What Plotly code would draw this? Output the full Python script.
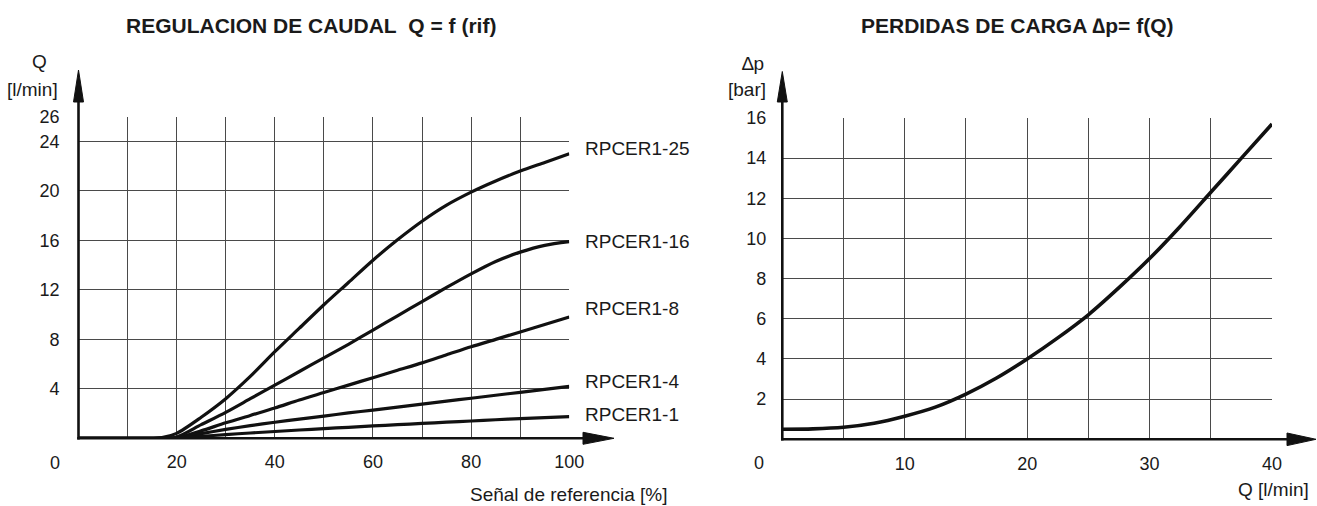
import plotly.graph_objects as go

W, H = 1317, 506

# ---------------- data ----------------
ref_pct = [0, 5, 10, 15, 17, 20, 25, 30, 35, 40, 45, 50, 55, 60, 65, 70, 75, 80, 85, 90, 95, 100]
q_rpcer1_25 = [0, 0, 0, 0, 0.05, 0.4, 1.7, 3.2, 5.0, 7.0, 8.9, 10.8, 12.6, 14.4, 16.05, 17.55, 18.85, 19.9, 20.8, 21.6, 22.3, 23.0]
q_rpcer1_16 = [0, 0, 0, 0, 0, 0.1, 1.1, 2.1, 3.2, 4.3, 5.4, 6.5, 7.6, 8.75, 9.9, 11.05, 12.2, 13.3, 14.3, 15.05, 15.6, 15.9]
q_rpcer1_8 = [0, 0, 0, 0, 0, 0.02, 0.6, 1.25, 1.85, 2.45, 3.1, 3.7, 4.3, 4.9, 5.5, 6.1, 6.75, 7.4, 8.0, 8.6, 9.2, 9.8]
q_rpcer1_4 = [0, 0, 0, 0, 0, 0.01, 0.38, 0.72, 1.02, 1.3, 1.55, 1.8, 2.05, 2.28, 2.52, 2.76, 3.0, 3.24, 3.48, 3.72, 3.96, 4.2]
q_rpcer1_1 = [0, 0, 0, 0, 0, 0.0, 0.15, 0.3, 0.43, 0.55, 0.67, 0.78, 0.89, 1.0, 1.1, 1.2, 1.3, 1.4, 1.5, 1.59, 1.67, 1.75]
series_names = ["RPCER1-25", "RPCER1-16", "RPCER1-8", "RPCER1-4", "RPCER1-1"]
series_values = [q_rpcer1_25, q_rpcer1_16, q_rpcer1_8, q_rpcer1_4, q_rpcer1_1]
label_y = [23.4, 15.95, 10.5, 4.6, 1.9]

flow_q = [0, 2.5, 5, 7.5, 10, 12.5, 15, 17.5, 20, 22.5, 25, 27.5, 30, 32.5, 35, 37.5, 40]
dp_bar = [0.5, 0.52, 0.6, 0.8, 1.15, 1.6, 2.25, 3.05, 4.0, 5.05, 6.2, 7.55, 9.0, 10.6, 12.3, 14.0, 15.7]

left_x_ticks = list(range(0, 101, 10))
left_x_text = [str(v) if v in (20, 40, 60, 80, 100) else "" for v in left_x_ticks]
left_y_ticks = [0, 4, 8, 12, 16, 20, 24, 26]
left_y_text = ["" if v == 0 else str(v) for v in left_y_ticks]
right_x_ticks = list(range(0, 41, 5))
right_x_text = [str(v) if v in (10, 20, 30, 40) else "" for v in right_x_ticks]
right_y_ticks = list(range(0, 17, 2))
right_y_text = ["" if v == 0 else str(v) for v in right_y_ticks]

FONT = "Liberation Sans, Arial, Helvetica, sans-serif"
GRID = "#4a4a4a"
TXT = "#1a1a1a"
INK = "#111111"


def px(x):
    return x / W


def py(y):
    return 1 - y / H


fig = go.Figure()

for name, vals in zip(series_names, series_values):
    fig.add_trace(go.Scatter(x=ref_pct, y=vals, mode="lines", name=name,
                             line=dict(color=INK, width=3.2, shape="spline", smoothing=0.8),
                             cliponaxis=False, xaxis="x", yaxis="y", showlegend=False, hoverinfo="skip"))

fig.add_trace(go.Scatter(x=flow_q, y=dp_bar, mode="lines",
                         line=dict(color=INK, width=3.6, shape="spline", smoothing=0.8),
                         cliponaxis=False, xaxis="x2", yaxis="y2", showlegend=False, hoverinfo="skip"))

ax_common = dict(showgrid=True, gridcolor=GRID, gridwidth=1, zeroline=False, showline=False,
                 ticks="", tickfont=dict(family=FONT, size=18, color=TXT), tickmode="array",
                 fixedrange=True, automargin=False)

fig.update_layout(
    template="none",
    width=W, height=H, autosize=False,
    margin=dict(l=0, r=0, t=0, b=0, pad=0, autoexpand=False),
    paper_bgcolor="white", plot_bgcolor="white",
    xaxis=dict(domain=[px(78.5), px(569.3)], range=[0, 100], tickvals=left_x_ticks, ticktext=left_x_text,
               anchor="y", ticklabelstandoff=11, **ax_common),
    yaxis=dict(domain=[py(438.3), py(116.7)], range=[0, 26], tickvals=left_y_ticks, ticktext=left_y_text,
               anchor="x", ticklabelstandoff=18, **ax_common),
    xaxis2=dict(domain=[px(782.3), px(1272)], range=[0, 40], tickvals=right_x_ticks, ticktext=right_x_text,
                anchor="y2", ticklabelstandoff=12, **ax_common),
    yaxis2=dict(domain=[py(439.3), py(118)], range=[0, 16], tickvals=right_y_ticks, ticktext=right_y_text,
                anchor="x2", ticklabelstandoff=15, **ax_common),
)

shapes = []


def line(x0, y0, x1, y1, w=2.6):
    shapes.append(dict(type="line", xref="paper", yref="paper", x0=px(x0), y0=py(y0), x1=px(x1), y1=py(y1),
                       line=dict(color=INK, width=w), layer="above"))


def tri(pts):
    path = "M " + " L ".join(f"{px(a)},{py(b)}" for a, b in pts) + " Z"
    shapes.append(dict(type="path", xref="paper", yref="paper", path=path,
                       fillcolor=INK, line=dict(color=INK, width=1), layer="above"))


# left axes with arrows
line(78.5, 439.5, 78.5, 99)
tri([(73.5, 102), (83.5, 102), (78.5, 70)])
line(77.2, 438.3, 586, 438.3)
tri([(583, 432.3), (583, 444.3), (614, 438.3)])
# right axes with arrows
line(782.3, 440.5, 782.3, 99)
tri([(777.3, 102), (787.3, 102), (782.3, 71.5)])
line(781, 439.3, 1290, 439.3)
tri([(1287, 433), (1287, 445.6), (1316, 439.3)])

fig.update_layout(shapes=shapes)

ann = []


def text(x, y, s, size=19, anchor="center", bold=False):
    ann.append(dict(x=px(x), y=py(y), xref="paper", yref="paper", text=f"<b>{s}</b>" if bold else s,
                    showarrow=False, xanchor=anchor, yanchor="middle",
                    font=dict(family=FONT, size=size, color=TXT)))


text(310.7, 25.7, "REGULACION DE CAUDAL&nbsp;&nbsp;Q = f (rif)", size=21, bold=True)
text(1017.5, 25.7, "PERDIDAS DE CARGA ∆p= f(Q)", size=21, bold=True)
text(39, 62, "Q")
text(60, 90, "[l/min]", anchor="right")
text(55, 462.7, "0", size=18)
text(468, 494, "Señal de referencia [%]", anchor="left")
text(766, 64, "∆p", anchor="right")
text(768, 90, "[bar]", anchor="right")
text(759, 463, "0", size=18)
text(1311, 489, "Q [l/min]", anchor="right")

for name, ly in zip(series_names, label_y):
    ann.append(dict(x=100, y=ly, xref="x", yref="y", text=name, showarrow=False, xanchor="left",
                    xshift=14, yanchor="middle", font=dict(family=FONT, size=19, color=TXT)))

fig.update_layout(annotations=ann)

fig.write_html("out.html", config={"displayModeBar": False, "staticPlot": True},
               post_script="document.body.style.margin='0';document.body.style.overflow='hidden';")
